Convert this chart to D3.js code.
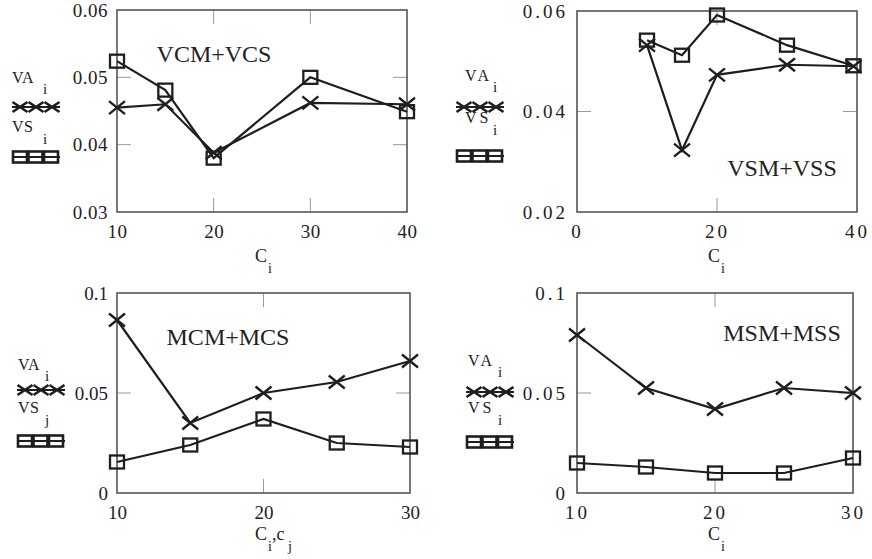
<!DOCTYPE html>
<html>
<head>
<meta charset="utf-8">
<script src="https://cdn.jsdelivr.net/npm/d3@7"></script>
<style>
  body { margin: 0; background: #fff; }
  svg { display: block; }
  svg text { font-family: "Liberation Serif", "DejaVu Serif", serif !important; fill: #222; }
</style>
</head>
<body>
<svg id="chart" width="872" height="559"></svg>
<script>
// values
const xVCM = [10, 15, 20, 30, 40];
const vaVCM = [0.0455, 0.046, 0.0388, 0.0462, 0.046];
const vsVCM = [0.0524, 0.0481, 0.038, 0.050, 0.0449];

const xVSM = [10, 15, 20, 30, 39.5];
const vaVSM = [0.0532, 0.0323, 0.0473, 0.0493, 0.049];
const vsVSM = [0.0542, 0.0512, 0.0592, 0.0532, 0.0491];

const xMCM = [10, 15, 20, 25, 30];
const vaMCM = [0.0865, 0.035, 0.05, 0.0555, 0.066];
const vsMCM = [0.0155, 0.024, 0.037, 0.025, 0.023];

const xMSM = [10, 15, 20, 25, 30];
const vaMSM = [0.079, 0.0525, 0.042, 0.0525, 0.05];
const vsMSM = [0.015, 0.013, 0.010, 0.010, 0.0175];

const yTicksVCM = [0.03, 0.04, 0.05, 0.06];
const yTicksVSM = [0.02, 0.04, 0.06];
const yTicksM = [0, 0.05, 0.1];
const xTicksVCM = [10, 20, 30, 40];
const xTicksVSM = [0, 20, 40];
const xTicksM = [10, 20, 30];

const svg = d3.select("#chart");
const ink = "#1e1e1e";
const serif = '"Liberation Serif", serif';

const cross = (w, h) => `M${-w},${-h}L${w},${h}M${-w},${h}L${w},${-h}`;

function drawPanel(p) {
  const x = d3.scaleLinear().domain(p.xDomain).range([p.left, p.right]);
  const y = d3.scaleLinear().domain(p.yDomain).range([p.bottom, p.top]);
  const g = svg.append("g");

  // tick labels only, box + inner ticks drawn below
  const ya = g.append("g")
    .attr("transform", `translate(${p.left},0)`)
    .call(d3.axisLeft(y).tickValues(p.yTicks).tickSize(0).tickPadding(9)
      .tickFormat(d => d === 0 ? "0" : String(+d.toFixed(3))));
  const xa = g.append("g")
    .attr("transform", `translate(0,${p.bottom})`)
    .call(d3.axisBottom(x).tickValues(p.xTicks).tickSize(0).tickPadding(13));
  [ya, xa].forEach(a => {
    a.attr("font-family", null).attr("font-size", null);
    a.select(".domain").remove();
    a.selectAll("text").style("font-family", serif).style("font-size", "19px")
      .attr("letter-spacing", p.spacing);
  });

  const inX = p.xTicks.filter(d => d > p.xDomain[0] && d < p.xDomain[1]);
  const inY = p.yTicks.filter(d => d > p.yDomain[0] && d < p.yDomain[1]);
  inX.forEach(d => {
    g.append("line").attr("x1", x(d)).attr("x2", x(d)).attr("y1", p.top).attr("y2", p.top + 14)
      .attr("stroke", "#999").attr("stroke-width", 1);
    g.append("line").attr("x1", x(d)).attr("x2", x(d)).attr("y1", p.bottom).attr("y2", p.bottom - 14)
      .attr("stroke", "#999").attr("stroke-width", 1);
  });
  inY.forEach(d => {
    g.append("line").attr("x1", p.left).attr("x2", p.left + 14).attr("y1", y(d)).attr("y2", y(d))
      .attr("stroke", "#999").attr("stroke-width", 1);
    g.append("line").attr("x1", p.right).attr("x2", p.right - 14).attr("y1", y(d)).attr("y2", y(d))
      .attr("stroke", "#999").attr("stroke-width", 1);
  });

  g.append("rect").attr("x", p.left).attr("y", p.top)
    .attr("width", p.right - p.left).attr("height", p.bottom - p.top)
    .attr("fill", "none").attr("stroke", "#555").attr("stroke-width", 1.6);

  const line = d3.line().x(d => x(d[0])).y(d => y(d[1]));
  const va = p.xs.map((v, i) => [v, p.va[i]]);
  const vs = p.xs.map((v, i) => [v, p.vs[i]]);

  [va, vs].forEach(s => {
    g.append("path").datum(s).attr("d", line)
      .attr("fill", "none").attr("stroke", ink).attr("stroke-width", 2.2);
  });
  g.selectAll(null).data(vs).join("rect")
    .attr("x", d => x(d[0]) - 7).attr("y", d => y(d[1]) - 6.5)
    .attr("width", 14).attr("height", 13)
    .attr("fill", "none").attr("stroke", ink).attr("stroke-width", 2.3);
  g.selectAll(null).data(va).join("path")
    .attr("transform", d => `translate(${x(d[0])},${y(d[1])})`)
    .attr("d", cross(8, 6.5))
    .attr("fill", "none").attr("stroke", ink).attr("stroke-width", 2.3);

  g.append("text").attr("x", p.nameX).attr("y", p.nameY).attr("text-anchor", "middle")
    .style("font-size", "24px").text(p.name);

  // legend
  const L = p.leg;
  const ls = p.spacing > 2 ? 3 : 0.5;
  const addSub = (ty, main, sub, sy) => {
    g.append("text").attr("x", L.x + L.tx).attr("y", ty).style("font-size", "16px")
      .attr("letter-spacing", ls).text(main);
    g.append("text").attr("x", L.x + L.sx).attr("y", sy).style("font-size", "15px").text(sub);
  };
  addSub(L.vaY, "VA", "i", L.vaY + 11);
  addSub(L.vsY, "VS", L.vsSub, L.vsY + 12);
  g.append("line").attr("x1", L.x).attr("x2", L.x + 48).attr("y1", L.crossY).attr("y2", L.crossY)
    .attr("stroke", ink).attr("stroke-width", 2.2);
  g.append("line").attr("x1", L.x).attr("x2", L.x + 48).attr("y1", L.sqY).attr("y2", L.sqY)
    .attr("stroke", ink).attr("stroke-width", 2.2);
  [0, 1, 2].forEach(k => {
    g.append("path").attr("transform", `translate(${L.x + 8 + k * 16},${L.crossY})`)
      .attr("d", cross(7.5, 5)).attr("fill", "none").attr("stroke", ink).attr("stroke-width", 2.6);
    g.append("rect").attr("x", L.x + 1 + k * 15.5).attr("y", L.sqY - 5.5)
      .attr("width", 14).attr("height", 11)
      .attr("fill", "none").attr("stroke", ink).attr("stroke-width", 2.6);
  });

  // axis title with subscripts
  p.title.forEach(part => {
    g.append("text").attr("x", part[0]).attr("y", p.bottom + p.titleDy)
      .style("font-size", "18px").text(part[1]);
    g.append("text").attr("x", part[2]).attr("y", p.bottom + p.titleDy + 11)
      .style("font-size", "14px").text(part[3]);
  });
}

drawPanel({
  left: 117, right: 407, top: 10, bottom: 212,
  xDomain: [10, 40], yDomain: [0.03, 0.06], xTicks: xTicksVCM, yTicks: yTicksVCM,
  xs: xVCM, va: vaVCM, vs: vsVCM, spacing: 0.5,
  name: "VCM+VCS", nameX: 214, nameY: 62,
  leg: { x: 12, tx: 0, sx: 31, vaY: 83, crossY: 107, vsY: 132, sqY: 157, vsSub: "i" },
  titleDy: 50, title: [[255, "C", 268, "i"]]
});

drawPanel({
  left: 577, right: 857, top: 11, bottom: 212,
  xDomain: [0, 40], yDomain: [0.02, 0.06], xTicks: xTicksVSM, yTicks: yTicksVSM,
  xs: xVSM, va: vaVSM, vs: vsVSM, spacing: 3,
  name: "VSM+VSS", nameX: 782, nameY: 176,
  leg: { x: 456, tx: 9, sx: 37, vaY: 81, crossY: 107, vsY: 123, sqY: 156, vsSub: "i" },
  titleDy: 50, title: [[708, "C", 721, "i"]]
});

drawPanel({
  left: 117, right: 410, top: 293, bottom: 493,
  xDomain: [10, 30], yDomain: [0, 0.1], xTicks: xTicksM, yTicks: yTicksM,
  xs: xMCM, va: vaMCM, vs: vsMCM, spacing: 0,
  name: "MCM+MCS", nameX: 228, nameY: 345,
  leg: { x: 17, tx: 1, sx: 28, vaY: 370, crossY: 390, vsY: 413, sqY: 441, vsSub: "j" },
  titleDy: 47, title: [[255, "C", 268, "i"], [272, ",c", 288, "j"]]
});

drawPanel({
  left: 577, right: 853, top: 293, bottom: 493,
  xDomain: [10, 30], yDomain: [0, 0.1], xTicks: xTicksM, yTicks: yTicksM,
  xs: xMSM, va: vaMSM, vs: vsMSM, spacing: 3,
  name: "MSM+MSS", nameX: 782, nameY: 341,
  leg: { x: 466, tx: 2, sx: 32, vaY: 366, crossY: 392, vsY: 413, sqY: 442, vsSub: "i" },
  titleDy: 47, title: [[708, "C", 721, "i"]]
});
</script>
</body>
</html>
